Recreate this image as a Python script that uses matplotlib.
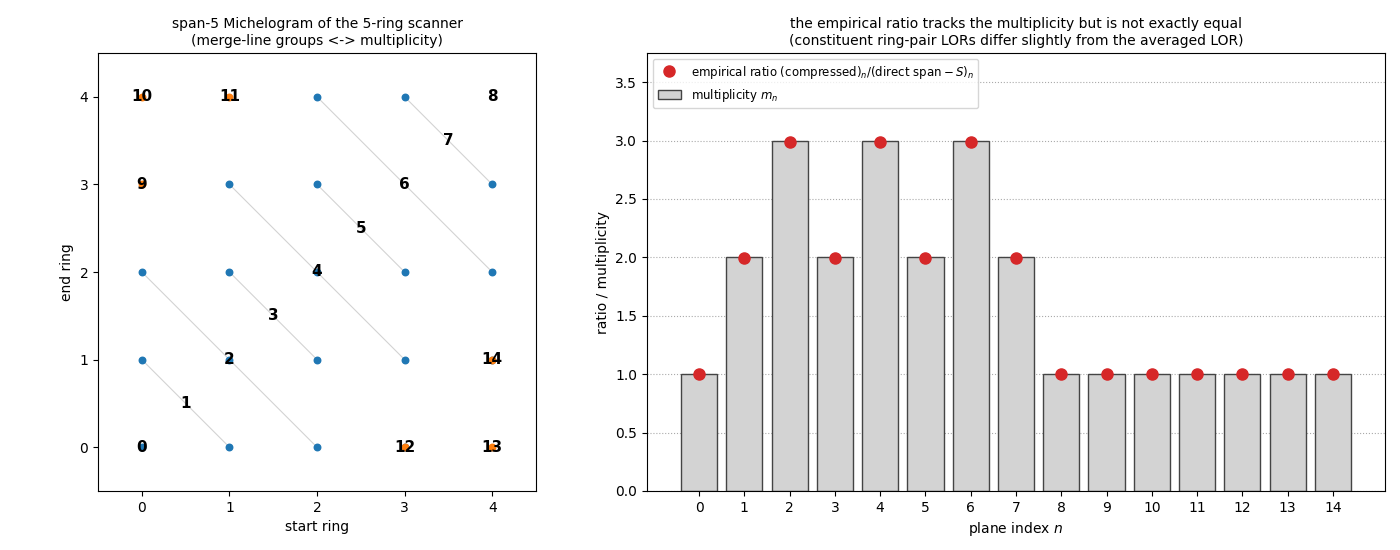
import matplotlib.pyplot as plt
import numpy as np

# ring-pair LORs kept in span-5 groups (start ring, end ring)
kept_start = [0, 1, 0, 2, 1, 0, 2, 1, 3, 2, 1, 3, 2, 4, 3, 2, 4, 3, 4]
kept_end   = [0, 0, 1, 0, 1, 2, 1, 2, 0, 2, 3, 1, 3, 1, 2, 4, 2, 4, 3]
# ring pairs outside the merge (|diff| >= 3)
odd_start = [0, 0, 1, 3, 4, 4]
odd_end   = [3, 4, 4, 0, 0, 1]

# merge lines (start0, end0) -> (start1, end1)
seg_from = [(0, 1), (0, 2), (1, 2), (1, 3), (2, 3), (2, 4), (3, 4)]
seg_to   = [(1, 0), (2, 0), (2, 1), (3, 1), (3, 2), (4, 2), (4, 3)]

# plane label positions
plane_ids = list(range(15))
plane_x = [0, 0.5, 1, 1.5, 2, 2.5, 3, 3.5, 4, 0, 0, 1, 3, 4, 4]
plane_y = [0, 0.5, 1, 1.5, 2, 2.5, 3, 3.5, 4, 3, 4, 4, 0, 0, 1]

# right panel
multiplicity = [1, 2, 3, 2, 3, 2, 3, 2, 1, 1, 1, 1, 1, 1, 1]
emp_ratio = [0.998, 1.998, 2.99, 1.998, 2.99, 1.998, 2.99, 1.998,
             0.998, 0.998, 0.998, 0.998, 0.998, 0.998, 0.998]

fig = plt.figure(figsize=(14, 5.5), dpi=100)
ax1 = fig.add_axes([98 / 1400, 59 / 550, 438 / 1400, 438 / 550])
ax2 = fig.add_axes([647 / 1400, 59 / 550, 738 / 1400, 438 / 550])

for (s0, e0), (s1, e1) in zip(seg_from, seg_to):
    ax1.plot([s0, s1], [e0, e1], color="lightgray", lw=0.8, zorder=1)
ax1.scatter(kept_start, kept_end, s=22, color="C0", zorder=2)
ax1.scatter(odd_start, odd_end, s=22, color="C1", zorder=2)
for pid, px, py in zip(plane_ids, plane_x, plane_y):
    ax1.text(px, py, str(pid), ha="center", va="center", fontsize=11,
             weight="bold", zorder=3)
ax1.set_xlim(-0.5, 4.5)
ax1.set_ylim(-0.5, 4.5)
ax1.set_xticks(range(5))
ax1.set_yticks(range(5))
ax1.set_xlabel("start ring")
ax1.set_ylabel("end ring")
ax1.set_title("span-5 Michelogram of the 5-ring scanner\n(merge-line groups <-> multiplicity)",
              fontsize=10)

idx = np.arange(len(multiplicity))
ax2.plot(idx, emp_ratio, "o", color="#d62728", ms=8, zorder=3,
         label=r"empirical ratio (compressed)$_n$/$(\mathrm{direct\ span} - S)_n$")
ax2.bar(idx, multiplicity, width=0.8, color="lightgray", edgecolor="#444444",
        lw=1, label="multiplicity $m_n$", zorder=2)
ax2.set_xlim(-1.15, 15.15)
ax2.set_ylim(0, 3.75)
ax2.set_xticks(idx)
ax2.grid(axis="y", ls=":", color="#aaaaaa", zorder=0)
ax2.set_axisbelow(True)
ax2.set_xlabel("plane index $n$")
ax2.set_ylabel("ratio / multiplicity")
ax2.set_title("the empirical ratio tracks the multiplicity but is not exactly equal\n"
              "(constituent ring-pair LORs differ slightly from the averaged LOR)",
              fontsize=10)
ax2.legend(loc="upper left", fontsize=8.5)

fig.savefig("out.png", dpi=100)
